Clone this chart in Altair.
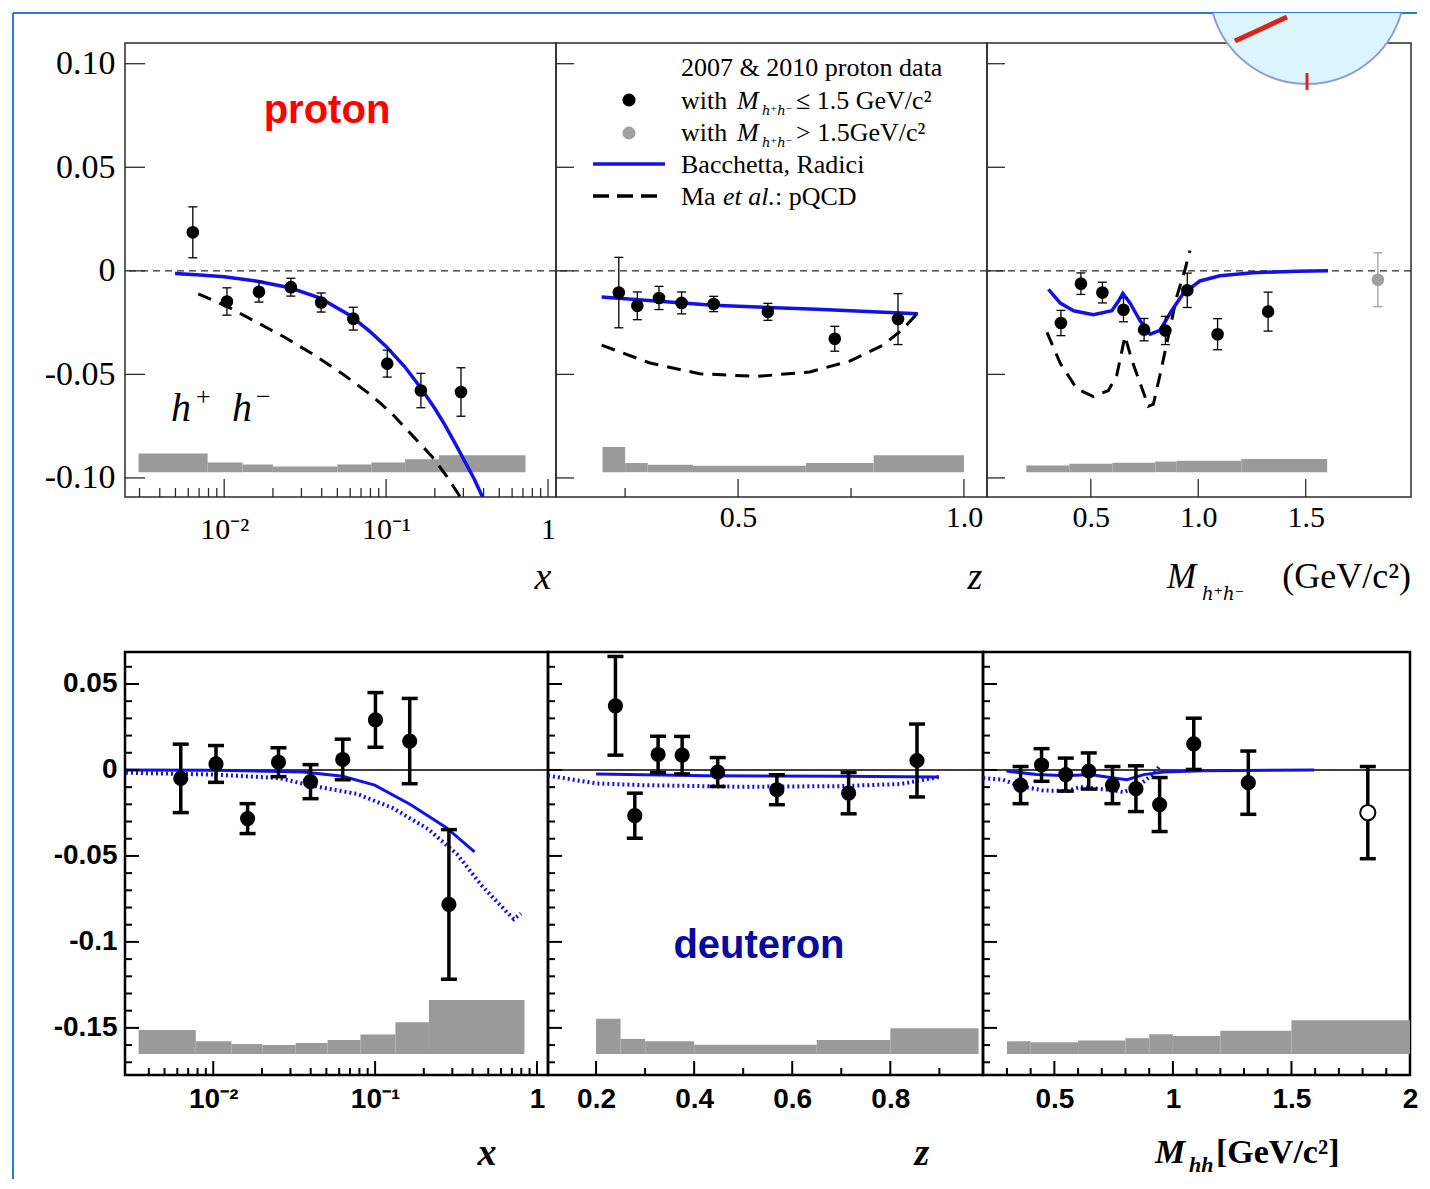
import altair as alt
import pandas as pd

SERIF = "Liberation Serif"
SANS = "Liberation Sans"
SUBFONT = "DejaVu Serif"

# ================= proton (2007 & 2010) =================
# --- vs x ---
PX_X = [0.0064, 0.0104, 0.0164, 0.0258, 0.0397, 0.0627, 0.1016, 0.164, 0.290]
PX_Y = [0.0186, -0.0148, -0.0101, -0.0079, -0.0153, -0.0231, -0.0448, -0.0578, -0.0585]
PX_E = [0.0123, 0.0066, 0.0050, 0.0043, 0.0046, 0.0055, 0.0065, 0.0083, 0.0117]
PX_BR_X = [0.00497, 0.0071, 0.010, 0.016, 0.0255, 0.0392, 0.060, 0.080, 0.100, 0.130,
           0.1644, 0.200, 0.231, 0.270, 0.3076, 0.350, 0.394]
PX_BR_Y = [-0.0013, -0.0020, -0.0029, -0.0050, -0.0082, -0.0132, -0.0216, -0.0295,
           -0.0365, -0.0462, -0.0567, -0.0665, -0.0745, -0.0840, -0.0923, -0.1005, -0.1092]
PX_MA_X = [0.00691, 0.01062, 0.01594, 0.02392, 0.03591, 0.05386, 0.08083, 0.1095,
           0.1485, 0.1913, 0.2344, 0.2871]
PX_MA_Y = [-0.0111, -0.0175, -0.0249, -0.0323, -0.0406, -0.0498, -0.0600, -0.0692,
           -0.0803, -0.0895, -0.0987, -0.1092]
PX_SYS_EDGES = [0.00296, 0.0079, 0.013, 0.020, 0.050, 0.081, 0.131, 0.212, 0.726]
PX_SYS_TOP = [-0.0882, -0.0926, -0.0935, -0.0945, -0.0935, -0.0926, -0.0910, -0.0891]
P_SYS_BASE = -0.0972

# --- vs z ---
PZ_X = [0.236, 0.277, 0.325, 0.375, 0.446, 0.566, 0.714, 0.854]
PZ_Y = [-0.0105, -0.0169, -0.0131, -0.0155, -0.0160, -0.0198, -0.0328, -0.0233]
PZ_E = [0.0170, 0.0067, 0.0056, 0.0053, 0.0037, 0.0041, 0.0060, 0.0123]
PZ_BR_X = [0.198, 0.445, 0.673, 0.898]
PZ_BR_Y = [-0.0126, -0.0166, -0.0186, -0.0207]
PZ_MA_X = [0.198, 0.305, 0.415, 0.541, 0.659, 0.747, 0.821, 0.865, 0.898]
PZ_MA_Y = [-0.0359, -0.0445, -0.0497, -0.0510, -0.0488, -0.0436, -0.0359, -0.0281, -0.0203]
PZ_SYS_EDGES = [0.2, 0.25, 0.3, 0.4, 0.65, 0.8, 1.0]
PZ_SYS_TOP = [-0.0850, -0.0928, -0.0936, -0.0941, -0.0928, -0.0890]

# --- vs M_hh ---
PM_X = [0.361, 0.454, 0.554, 0.652, 0.748, 0.847, 0.949, 1.090, 1.325]
PM_Y = [-0.0252, -0.0062, -0.0105, -0.0188, -0.0284, -0.0288, -0.0094, -0.0306, -0.0197]
PM_E = [0.0061, 0.0052, 0.0050, 0.0058, 0.0054, 0.0068, 0.0083, 0.0075, 0.0094]
PM_HI_X = [1.836]
PM_HI_Y = [-0.0043]
PM_HI_E = [0.0130]
PM_BR_X = [0.303, 0.358, 0.420, 0.512, 0.598, 0.629, 0.649, 0.683, 0.729, 0.776,
           0.822, 0.876, 0.930, 1.008, 1.101, 1.255, 1.457, 1.604]
PM_BR_Y = [-0.0090, -0.0156, -0.0193, -0.0212, -0.0193, -0.0146, -0.0109, -0.0156,
           -0.0240, -0.0306, -0.0287, -0.0193, -0.0109, -0.0049, -0.0024, -0.0009,
           -0.0002, 0.0]
PM_MA_X = [0.296, 0.358, 0.435, 0.512, 0.582, 0.621, 0.644, 0.659, 0.690, 0.729,
           0.768, 0.791, 0.822, 0.853, 0.899, 0.938, 0.961]
PM_MA_Y = [-0.0297, -0.0447, -0.0569, -0.0607, -0.0578, -0.0503, -0.0391, -0.0315,
           -0.0428, -0.0541, -0.0654, -0.0644, -0.0503, -0.0353, -0.0128, 0.0004, 0.0098]
PM_SYS_EDGES = [0.2, 0.4, 0.6, 0.8, 0.9, 1.2, 1.6]
PM_SYS_TOP = [-0.0940, -0.0932, -0.0927, -0.0921, -0.0917, -0.0908]

# ================= deuteron =================
DX_X = [0.0063, 0.0104, 0.0163, 0.0253, 0.0399, 0.0631, 0.1005, 0.1636, 0.2857]
DX_Y = [-0.0049, 0.0035, -0.0283, 0.0045, -0.0068, 0.0061, 0.0291, 0.0168, -0.0782]
DX_E = [0.0199, 0.0107, 0.0087, 0.0084, 0.0099, 0.0118, 0.0159, 0.0248, 0.0435]
DX_SOL_X = [0.00289, 0.01015, 0.0361, 0.0630, 0.0995, 0.1652, 0.2744, 0.4116]
DX_SOL_Y = [0.0, -0.0002, -0.0012, -0.0037, -0.0088, -0.0201, -0.0334, -0.0477]
DX_DOT_X = [0.00289, 0.01015, 0.0253, 0.0420, 0.0772, 0.1282, 0.2129, 0.3194, 0.4556,
            0.6498, 0.7190, 0.7960]
DX_DOT_Y = [-0.0016, -0.0027, -0.0047, -0.0094, -0.0139, -0.0221, -0.0344, -0.0488,
            -0.0672, -0.0826, -0.0867, -0.0836]
DX_SYS_EDGES = [0.00346, 0.0078, 0.01295, 0.0201, 0.0323, 0.0509, 0.0812, 0.1335, 0.2151, 0.837]
DX_SYS_TOP = [-0.1512, -0.1578, -0.1594, -0.1600, -0.1588, -0.1570, -0.1539, -0.1467, -0.1338]
D_SYS_BASE = -0.1652

DZ_X = [0.2395, 0.279, 0.3265, 0.3755, 0.448, 0.5687, 0.715, 0.8544]
DZ_Y = [0.0373, -0.0266, 0.0090, 0.0086, -0.0012, -0.0115, -0.0135, 0.0055]
DZ_E = [0.0287, 0.0131, 0.0106, 0.0109, 0.0084, 0.0087, 0.0120, 0.0212]
DZ_SOL_X = [0.2, 0.426, 0.698, 0.899]
DZ_SOL_Y = [-0.0023, -0.0033, -0.0037, -0.0041]
DZ_DOT_X = [0.102, 0.154, 0.201, 0.290, 0.494, 0.698, 0.820, 0.868, 0.899]
DZ_DOT_Y = [-0.0033, -0.0057, -0.0078, -0.0088, -0.0098, -0.0094, -0.0082, -0.0057, -0.0041]
DZ_SYS_EDGES = [0.2, 0.25, 0.3, 0.4, 0.65, 0.8, 0.98]
DZ_SYS_TOP = [-0.1447, -0.1564, -0.1578, -0.1598, -0.1570, -0.1502]

DM_X = [0.3575, 0.446, 0.548, 0.645, 0.745, 0.844, 0.944, 1.088, 1.318]
DM_Y = [-0.0088, 0.0029, -0.0027, -0.0006, -0.0088, -0.0109, -0.0201, 0.0152, -0.0074]
DM_E = [0.0108, 0.0095, 0.0096, 0.0105, 0.0108, 0.0133, 0.0157, 0.0149, 0.0184]
DM_OPEN_X = [1.822]
DM_OPEN_Y = [-0.0248]
DM_OPEN_E = [0.0268]
DM_SOL_X = [0.298, 0.425, 0.552, 0.651, 0.750, 0.806, 0.877, 0.961, 1.130, 1.596]
DM_SOL_Y = [-0.0006, -0.0027, -0.0033, -0.0027, -0.0047, -0.0057, -0.0027, -0.0012, -0.0004, 0.0]
DM_DOT_X = [0.2, 0.284, 0.355, 0.453, 0.552, 0.609, 0.679, 0.750, 0.792, 0.848, 0.905, 0.947]
DM_DOT_Y = [-0.0047, -0.0057, -0.0094, -0.0119, -0.0123, -0.0098, -0.0109, -0.0119,
            -0.0129, -0.0098, -0.0037, 0.0025]
DM_SYS_EDGES = [0.3, 0.4, 0.6, 0.8, 0.9, 1.0, 1.2, 1.5, 2.0]
DM_SYS_TOP = [-0.1578, -0.1584, -0.1574, -0.1560, -0.1537, -0.1547, -0.1516, -0.1455]

# ================= axis ticks =================
LOG_MAJ = [0.01, 0.1, 1.0]
TOP_LOG_MIN = [0.003, 0.004, 0.005, 0.006, 0.007, 0.008, 0.009,
               0.02, 0.03, 0.04, 0.05, 0.06, 0.07, 0.08, 0.09,
               0.2, 0.3, 0.4, 0.5, 0.6, 0.7, 0.8, 0.9]
BOT_LOG_MIN = TOP_LOG_MIN[1:]
TOP_Y_TICKS = [-0.10, -0.05, 0.0, 0.05, 0.10]
PZ_MAJ = [0.5, 1.0]
PZ_MIN = [0.25, 0.75]
PM_MAJ = [0.5, 1.0, 1.5]
BOT_Y_MAJ = [-0.15, -0.10, -0.05, 0.0, 0.05]
BOT_Y_MIN = [-0.17, -0.16, -0.14, -0.13, -0.12, -0.11, -0.09, -0.08, -0.07, -0.06,
             -0.04, -0.03, -0.02, -0.01, 0.01, 0.02, 0.03, 0.04, 0.06]
DZ_MAJ = [0.2, 0.4, 0.6, 0.8]
DZ_MIN = [0.3, 0.5, 0.7, 0.9]
DM_MAJ = [0.5, 1.0, 1.5, 2.0]
DM_MIN = [0.3, 0.4, 0.6, 0.7, 0.8, 0.9, 1.1, 1.2, 1.3, 1.4, 1.6, 1.7, 1.8, 1.9]

TOP_YDOM = [-0.1092, 0.110]
BOT_YDOM = [-0.1774, 0.0686]

BLUE = "#1212e8"
BAND = "#9a9a9a"
ONE = pd.DataFrame({"k": [0]})


def pts_df(x, y, e):
    return pd.DataFrame({"x": x, "y": y,
                         "lo": [a - b for a, b in zip(y, e)],
                         "hi": [a + b for a, b in zip(y, e)]})


def line_df(x, y):
    return pd.DataFrame({"x": x, "y": y, "i": list(range(len(x)))})


def band_df(edges, tops, base):
    return pd.DataFrame({"x": edges[:-1], "x2": edges[1:], "y": tops,
                         "y2": [base] * len(tops)})


class Panel:
    def __init__(self, w, h, xdom, ydom, xlog, xaxis, yaxis, frame, fw):
        self.w, self.h = w, h
        if xlog:
            self.xs = alt.Scale(type="log", domain=xdom, nice=False)
        else:
            self.xs = alt.Scale(type="linear", domain=xdom, nice=False, zero=False)
        self.ys = alt.Scale(type="linear", domain=ydom, nice=False, zero=False)
        self.xaxis, self.yaxis = xaxis, yaxis
        self.frame, self.fw = frame, fw
        self.layers = []

    def X(self, f="x"):
        return alt.X(f, type="quantitative", scale=self.xs, axis=self.xaxis)

    def Y(self, f="y"):
        return alt.Y(f, type="quantitative", scale=self.ys, axis=self.yaxis)

    def band(self, edges, tops, base):
        self.layers.append(alt.Chart(band_df(edges, tops, base)).mark_rect(color=BAND).encode(
            x=self.X("x"), x2=alt.X2("x2"), y=self.Y("y"), y2=alt.Y2("y2")))

    def zero(self, color, width, dash=None):
        kw = dict(color=color, strokeWidth=width)
        if dash:
            kw["strokeDash"] = dash
        self.layers.append(alt.Chart(pd.DataFrame({"y": [0.0]})).mark_rule(**kw).encode(y=self.Y("y")))

    def curve(self, x, y, color, width, dash=None):
        kw = dict(color=color, strokeWidth=width, clip=True)
        if dash:
            kw["strokeDash"] = dash
        self.layers.append(alt.Chart(line_df(x, y)).mark_line(**kw).encode(
            x=self.X("x"), y=self.Y("y"), order="i:Q"))

    def points(self, x, y, e, color, size, bar_w, cap, cap_th, open_pt=False):
        d = pts_df(x, y, e)
        self.layers.append(alt.Chart(d).mark_rule(color=color, strokeWidth=bar_w).encode(
            x=self.X("x"), y=self.Y("lo"), y2=alt.Y2("hi")))
        for f in ("lo", "hi"):
            self.layers.append(alt.Chart(d).mark_tick(orient="horizontal", size=cap, thickness=cap_th,
                                                      color=color, opacity=1).encode(
                x=self.X("x"), y=self.Y(f)))
        if open_pt:
            self.layers.append(alt.Chart(d).mark_point(shape="circle", filled=True, fill="white",
                                                       stroke=color, strokeWidth=2, size=size,
                                                       opacity=1).encode(x=self.X("x"), y=self.Y("y")))
        else:
            self.layers.append(alt.Chart(d).mark_circle(color=color, size=size, opacity=1).encode(
                x=self.X("x"), y=self.Y("y")))

    def xticks(self, vals, length, color, width):
        self.layers.append(alt.Chart(pd.DataFrame({"x": vals})).mark_rule(color=color, strokeWidth=width).encode(
            x=self.X("x"), y=alt.value(self.h), y2=alt.value(self.h - length)))

    def yticks(self, vals, length, color, width):
        self.layers.append(alt.Chart(pd.DataFrame({"y": vals})).mark_rule(color=color, strokeWidth=width).encode(
            y=self.Y("y"), x=alt.value(0), x2=alt.value(length)))

    def text(self, s, x, y, size, font=SERIF, style="normal", weight="normal", color="black",
             align="left", baseline="alphabetic"):
        self.layers.append(alt.Chart(ONE).mark_text(font=font, fontSize=size, fontStyle=style,
                                                    fontWeight=weight, color=color, align=align,
                                                    baseline=baseline).encode(
            x=alt.value(x), y=alt.value(y), text=alt.value(s)))

    def seg(self, x, y, x2, y2, color, width, dash=None):
        kw = dict(color=color, strokeWidth=width)
        if dash:
            kw["strokeDash"] = dash
        self.layers.append(alt.Chart(ONE).mark_rule(**kw).encode(
            x=alt.value(x), y=alt.value(y), x2=alt.value(x2), y2=alt.value(y2)))

    def dot(self, x, y, color, size):
        self.layers.append(alt.Chart(ONE).mark_circle(color=color, size=size, opacity=1).encode(
            x=alt.value(x), y=alt.value(y)))

    def chart(self):
        return alt.layer(*self.layers).properties(
            width=self.w, height=self.h,
            view=alt.ViewBackground(stroke=self.frame, strokeWidth=self.fw))


def top_xaxis(values, expr, pad):
    return alt.Axis(values=values, labelExpr=expr, ticks=False, tickSize=0, domain=False, grid=False,
                    labelFont=SERIF, labelFontSize=30, labelColor="black", labelBaseline="alphabetic",
                    labelPadding=pad, labelFlush=False, labelOverlap=False, title=None)


def bot_xaxis(values, expr):
    return alt.Axis(values=values, labelExpr=expr, ticks=False, tickSize=0, domain=False, grid=False,
                    labelFont=SANS, labelFontSize=28, labelFontWeight="bold", labelColor="black",
                    labelBaseline="alphabetic", labelPadding=32, labelFlush=False, labelOverlap=False,
                    title=None)


LOG_EXPR = "datum.value < 0.05 ? '10⁻²' : (datum.value < 0.5 ? '10⁻¹' : '1')"
TOP_YAXIS = alt.Axis(values=TOP_Y_TICKS, ticks=False, tickSize=0, domain=False, grid=False,
                     labelFont=SERIF, labelFontSize=34, labelColor="black", labelPadding=10,
                     labelBaseline="middle", labelOverlap=False, title=None,
                     labelExpr="datum.value == 0 ? '0' : (datum.value < 0 ? '-' : '') + format(abs(datum.value), '.2f')")
BOT_YAXIS = alt.Axis(values=BOT_Y_MAJ, ticks=False, tickSize=0, domain=False, grid=False,
                     labelFont=SANS, labelFontSize=28, labelFontWeight="bold", labelColor="black",
                     labelPadding=8, labelBaseline="middle", labelOverlap=False, title=None,
                     labelExpr="datum.value == 0 ? '0' : (datum.value < 0 ? '-' : '') + format(abs(datum.value), '~g')")

TF, TFW = "#2b2b2b", 1.5
BF, BFW = "black", 2.5
TOP_H, BOT_H = 454, 423
SLIDE = "#2a7bd8"

# ---------------- top-left: proton vs x ----------------
p1 = Panel(431, TOP_H, [0.00244, 1.12], TOP_YDOM, True, top_xaxis(LOG_MAJ, LOG_EXPR, 41), TOP_YAXIS, TF, TFW)
p1.band(PX_SYS_EDGES, PX_SYS_TOP, P_SYS_BASE)
p1.zero(TF, 1.1, [7, 5])
p1.curve(PX_BR_X, PX_BR_Y, BLUE, 3.5)
p1.curve(PX_MA_X, PX_MA_Y, "black", 3, [14, 9])
p1.points(PX_X, PX_Y, PX_E, "black", 160, 1.3, 9, 1.3)
p1.yticks(TOP_Y_TICKS, 20, TF, 1.3)
p1.xticks(LOG_MAJ, 18, TF, 1.3)
p1.xticks(TOP_LOG_MIN, 9, TF, 1.3)
p1.text("proton", 202, 68, 40, font=SANS, weight="bold", color="#ff0000", align="center", baseline="middle")
p1.text("h", 46, 378, 40, style="italic")
p1.text("+", 71, 362, 26)
p1.text("h", 107, 378, 40, style="italic")
p1.text("−", 131, 362, 26)
p1.text("x", 418, 546, 38, style="italic", align="center")
# slide frame
p1.seg(-112, -30, -112, 1136, SLIDE, 2)
p1.seg(-112, -30, 1292, -30, SLIDE, 2)

# ---------------- top-middle: proton vs z ----------------
p2 = Panel(431, TOP_H, [0.097, 1.051], TOP_YDOM, False,
           top_xaxis(PZ_MAJ, "format(datum.value, '.1f')", 29), None, TF, TFW)
p2.band(PZ_SYS_EDGES, PZ_SYS_TOP, P_SYS_BASE)
p2.zero(TF, 1.1, [7, 5])
p2.curve(PZ_BR_X, PZ_BR_Y, BLUE, 3.5)
p2.curve(PZ_MA_X, PZ_MA_Y, "black", 3, [14, 9])
p2.points(PZ_X, PZ_Y, PZ_E, "black", 160, 1.3, 9, 1.3)
p2.yticks(TOP_Y_TICKS, 18, TF, 1.3)
p2.xticks(PZ_MAJ, 18, TF, 1.3)
p2.xticks(PZ_MIN, 9, TF, 1.3)
p2.text("z", 419, 546, 38, style="italic", align="center")
# legend
p2.text("2007 & 2010 proton data", 125, 33, 26)
p2.dot(73, 57, "black", 170)
p2.text("with", 125, 66, 26)
p2.text("M", 181, 66, 26, style="italic")
p2.text("h⁺h⁻", 206, 72, 13, font=SUBFONT, style="italic")
p2.text("≤ 1.5 GeV/c²", 240, 66, 26)
p2.dot(73, 90, "#a0a0a0", 170)
p2.text("with", 125, 98, 26)
p2.text("M", 181, 98, 26, style="italic")
p2.text("h⁺h⁻", 206, 104, 13, font=SUBFONT, style="italic")
p2.text("> 1.5GeV/c²", 240, 98, 26)
p2.seg(37, 121, 109, 121, BLUE, 3.5)
p2.text("Bacchetta, Radici", 125, 130, 26)
p2.seg(37, 153, 101, 153, "black", 3.5, [16, 8])
p2.text("Ma", 125, 162, 26)
p2.text("et al.", 167, 162, 26, style="italic")
p2.text(": pQCD", 219, 162, 26)

# ---------------- top-right: proton vs M ----------------
p3 = Panel(424, TOP_H, [0.017, 1.99], TOP_YDOM, False,
           top_xaxis(PM_MAJ, "format(datum.value, '.1f')", 29), None, TF, TFW)
p3.band(PM_SYS_EDGES, PM_SYS_TOP, P_SYS_BASE)
p3.zero(TF, 1.1, [7, 5])
p3.curve(PM_MA_X, PM_MA_Y, "black", 3, [14, 9])
p3.curve(PM_BR_X, PM_BR_Y, BLUE, 3.5)
p3.points(PM_X, PM_Y, PM_E, "black", 160, 1.3, 9, 1.3)
p3.points(PM_HI_X, PM_HI_Y, PM_HI_E, "#a0a0a0", 160, 1.3, 9, 1.3)
p3.yticks(TOP_Y_TICKS, 18, TF, 1.3)
p3.xticks(PM_MAJ, 18, TF, 1.3)
p3.text("M", 180, 545, 35, style="italic")
p3.text("h⁺h⁻", 215, 557, 18, font=SUBFONT, style="italic")
p3.text("(GeV/c²)", 424, 545, 36, align="right")
# compass logo (decoration)
COMPASS = "M -0.9613 0.2755 A 1 1 0 0 0 0.9613 0.2755"
p3.layers.append(alt.Chart(ONE).mark_point(shape=COMPASS, size=38416, filled=True, fill="#dcf4fb",
                                           stroke="#8e9fcf", strokeWidth=2, opacity=1).encode(
    x=alt.value(320), y=alt.value(-57)))
p3.seg(248, -2, 300, -26, "#d9261c", 5)
p3.seg(320, 30, 320, 47, "#d9261c", 3)

# ---------------- bottom-left: deuteron vs x ----------------
q1 = Panel(423, BOT_H, [0.00285, 1.17], BOT_YDOM, True, bot_xaxis(LOG_MAJ, LOG_EXPR), BOT_YAXIS, BF, BFW)
q1.band(DX_SYS_EDGES, DX_SYS_TOP, D_SYS_BASE)
q1.zero("black", 1.5)
q1.curve(DX_DOT_X, DX_DOT_Y, BLUE, 4, [2, 3])
q1.curve(DX_SOL_X, DX_SOL_Y, BLUE, 3)
q1.points(DX_X, DX_Y, DX_E, "black", 230, 3.5, 16, 3.5)
q1.yticks(BOT_Y_MAJ, 14, BF, 2)
q1.yticks(BOT_Y_MIN, 7, BF, 2)
q1.xticks(LOG_MAJ, 14, BF, 2)
q1.xticks(BOT_LOG_MIN, 7, BF, 2)
q1.text("x", 362, 513, 38, style="italic", weight="bold", align="center")

# ---------------- bottom-middle: deuteron vs z ----------------
q2 = Panel(435, BOT_H, [0.102, 0.989], BOT_YDOM, False,
           bot_xaxis(DZ_MAJ, "format(datum.value, '.1f')"), None, BF, BFW)
q2.band(DZ_SYS_EDGES, DZ_SYS_TOP, D_SYS_BASE)
q2.zero("black", 1.5)
q2.curve(DZ_DOT_X, DZ_DOT_Y, BLUE, 4, [2, 3])
q2.curve(DZ_SOL_X, DZ_SOL_Y, BLUE, 3)
q2.points(DZ_X, DZ_Y, DZ_E, "black", 230, 3.5, 16, 3.5)
q2.yticks(BOT_Y_MAJ, 14, BF, 2)
q2.yticks(BOT_Y_MIN, 7, BF, 2)
q2.xticks(DZ_MAJ, 14, BF, 2)
q2.xticks(DZ_MIN, 7, BF, 2)
q2.text("deuteron", 211, 294, 40, font=SANS, weight="bold", color="#0a0a9e", align="center",
        baseline="middle")
q2.text("z", 374, 513, 38, style="italic", weight="bold", align="center")

# ---------------- bottom-right: deuteron vs M ----------------
q3 = Panel(427, BOT_H, [0.199, 2.0], BOT_YDOM, False,
           bot_xaxis(DM_MAJ, "format(datum.value, '~g')"), None, BF, BFW)
q3.band(DM_SYS_EDGES, DM_SYS_TOP, D_SYS_BASE)
q3.zero("black", 1.5)
q3.curve(DM_DOT_X, DM_DOT_Y, BLUE, 4, [2, 3])
q3.curve(DM_SOL_X, DM_SOL_Y, BLUE, 3)
q3.points(DM_X, DM_Y, DM_E, "black", 230, 3.5, 16, 3.5)
q3.points(DM_OPEN_X, DM_OPEN_Y, DM_OPEN_E, "black", 230, 3.5, 16, 3.5, open_pt=True)
q3.yticks(BOT_Y_MAJ, 14, BF, 2)
q3.yticks(BOT_Y_MIN, 7, BF, 2)
q3.xticks(DM_MAJ, 14, BF, 2)
q3.xticks(DM_MIN, 7, BF, 2)
q3.text("M", 172, 511, 34, style="italic", weight="bold")
q3.text("hh", 206, 520, 22, style="italic", weight="bold")
q3.text("[GeV/c²]", 233, 511, 34, weight="bold")

row1 = alt.hconcat(p1.chart(), p2.chart(), p3.chart(), spacing=0, bounds="flush")
row2 = alt.hconcat(q1.chart(), q2.chart(), q3.chart(), spacing=0, bounds="flush")
# in flush mode the nested row counts as zero height, so the spacing includes the top row height
chart = alt.vconcat(row1, row2, spacing=TOP_H + 155, bounds="flush").properties(
    padding={"left": 3, "top": 0, "right": 0, "bottom": 0},
    background="white",
)

chart.save("out.html", embed_options={"renderer": "svg", "actions": False})
